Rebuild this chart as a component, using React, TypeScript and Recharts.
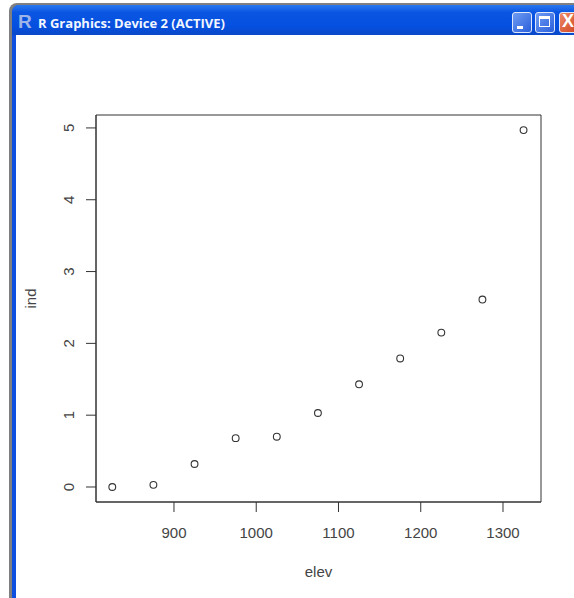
import React from 'react'
import { ScatterChart, Scatter, XAxis, YAxis, ReferenceArea } from 'recharts'

const elev = [825, 875, 925, 975, 1025, 1075, 1125, 1175, 1225, 1275, 1325]
const ind = [0, 0.03, 0.32, 0.68, 0.7, 1.03, 1.43, 1.79, 2.15, 2.61, 4.97]
const elevTicks = [900, 1000, 1100, 1200, 1300]
const indTicks = [0, 1, 2, 3, 4, 5]
const elevRange = [805.2, 1346.2]
const indRange = [-0.209, 5.18]
const windowTitle = 'R Graphics: Device 2 (ACTIVE)'

const points = elev.map((e, i) => ({ elev: e, ind: ind[i] }))

const ink = '#333333'
const textInk = '#444444'
const font = '"Liberation Sans", Arial, sans-serif'

function OpenCircle(props: any) {
    return <circle cx={props.cx} cy={props.cy} r={3.4} fill="none" stroke={ink} strokeWidth={1.1} />
}

function WinButton({ left, width, bg, children }: any) {
    return (
        <div
            style={{
                position: 'absolute',
                left,
                top: 12,
                width,
                height: 21,
                boxSizing: 'border-box',
                background: bg,
                border: '1px solid #dfe8fb',
                borderRadius: 3
            }}
        >
            {children}
        </div>
    )
}

function WindowFrame() {
    return (
        <>
            <div style={{ position: 'absolute', left: 9, top: 3, width: 565, height: 595, background: '#808080', borderTopLeftRadius: 8 }} />
            <div
                style={{
                    position: 'absolute',
                    left: 12,
                    top: 5,
                    width: 562,
                    height: 593,
                    background: '#0f4fe0',
                    borderTopLeftRadius: 7
                }}
            />
            <div
                style={{
                    position: 'absolute',
                    left: 12,
                    top: 5,
                    width: 562,
                    height: 30,
                    background: 'linear-gradient(180deg, #2a78f0 0%, #0a56e2 25%, #0550e0 70%, #0a48c8 100%)',
                    borderTopLeftRadius: 7
                }}
            />
            <div style={{ position: 'absolute', left: 16, top: 35, width: 558, height: 563, background: '#ffffff' }} />
            <div
                style={{
                    position: 'absolute',
                    left: 18,
                    top: 12,
                    fontFamily: font,
                    fontWeight: 'bold',
                    fontSize: 19,
                    lineHeight: '20px',
                    color: '#9db4e8'
                }}
            >
                R
            </div>
            <div
                style={{
                    position: 'absolute',
                    left: 38,
                    top: 15,
                    fontFamily: '"Open Sans", sans-serif',
                    fontWeight: 'bold',
                    fontSize: 13,
                    lineHeight: '16px',
                    color: '#f2f6ff',
                    whiteSpace: 'nowrap'
                }}
            >
                {windowTitle}
            </div>
            <WinButton left={512} width={20} bg="linear-gradient(135deg, #6f9cf2, #2a5fdc)">
                <div style={{ position: 'absolute', left: 4, top: 13, width: 6, height: 3, background: '#fff' }} />
            </WinButton>
            <WinButton left={535} width={20} bg="linear-gradient(135deg, #6f9cf2, #2a5fdc)">
                <div style={{ position: 'absolute', left: 3, top: 3, width: 11, height: 11, boxSizing: 'border-box', border: '1px solid #fff', borderTop: '3px solid #fff' }} />
            </WinButton>
            <WinButton left={559} width={22} bg="linear-gradient(135deg, #ec8a68, #d0401c)">
                <div style={{ position: 'absolute', left: 2, top: -2, color: '#fff', fontFamily: font, fontWeight: 'bold', fontSize: 18 }}>X</div>
            </WinButton>
        </>
    )
}

export default function App() {
    const tickStyle = { fill: textInk, fontFamily: font, fontSize: 15 }
    return (
        <div style={{ position: 'absolute', left: 0, top: 0, width: 574, height: 598, overflow: 'hidden', background: '#fff' }}>
            <WindowFrame />
            <div style={{ position: 'absolute', left: 0, top: 0 }}>
                <ScatterChart width={574} height={598} margin={{ top: 115, right: 33, bottom: 0, left: 0 }}>
                    <XAxis
                        type="number"
                        dataKey="elev"
                        domain={elevRange}
                        ticks={elevTicks}
                        height={96}
                        tickSize={10}
                        tickMargin={15}
                        interval={0}
                        stroke={ink}
                        tick={tickStyle}
                        label={{ value: 'elev', position: 'insideBottom', offset: 21, fill: textInk, fontFamily: font, fontSize: 15 }}
                    />
                    <YAxis
                        type="number"
                        dataKey="ind"
                        domain={indRange}
                        ticks={indTicks}
                        width={96}
                        tickSize={10}
                        tickMargin={17}
                        interval={0}
                        stroke={ink}
                        tick={{ ...tickStyle, angle: -90, textAnchor: 'middle' }}
                        label={{ value: 'ind', angle: -90, position: 'insideLeft', offset: 31, fill: textInk, fontFamily: font, fontSize: 15 }}
                    />
                    <ReferenceArea
                        x1={elevRange[0]}
                        x2={elevRange[1]}
                        y1={indRange[0]}
                        y2={indRange[1]}
                        fill="none"
                        stroke={ink}
                        strokeWidth={1}
                    />
                    <Scatter data={points} shape={OpenCircle} isAnimationActive={false} />
                </ScatterChart>
            </div>
        </div>
    )
}
